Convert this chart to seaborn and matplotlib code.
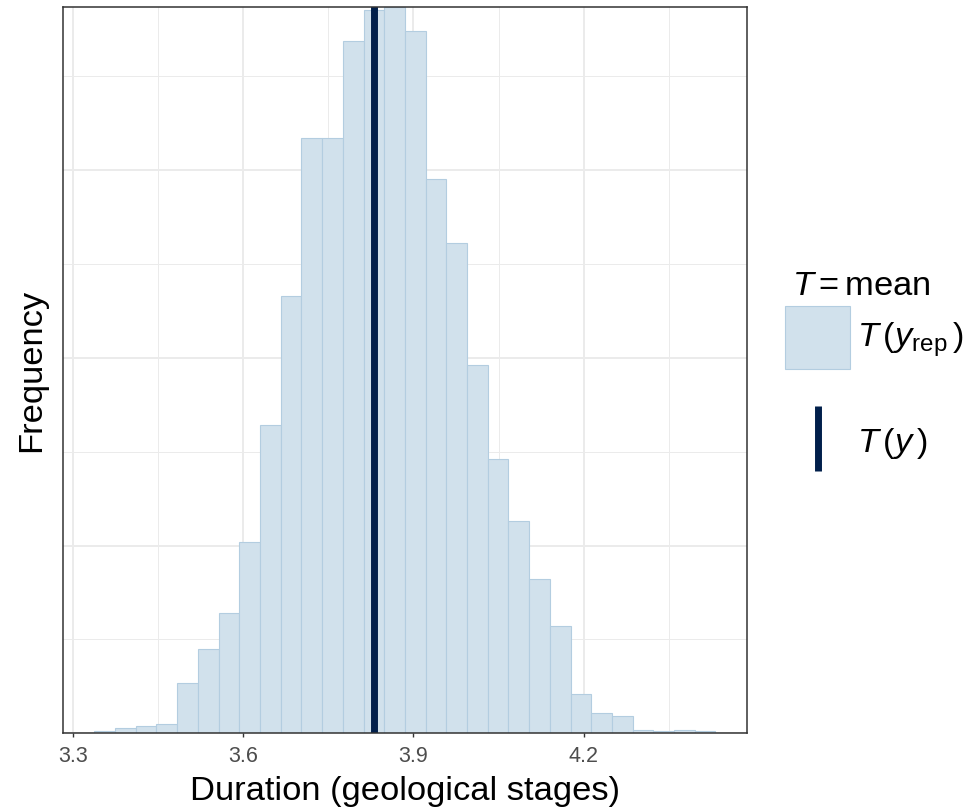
import numpy as np
import pandas as pd
import matplotlib
matplotlib.use("Agg")
import matplotlib.pyplot as plt
import seaborn as sns
from matplotlib.patches import Rectangle
from matplotlib.lines import Line2D
from matplotlib.ticker import FixedLocator, AutoMinorLocator, MultipleLocator

# ---- data ----
stat_lo = 3.3379          # left edge of first bin
stat_hi = 4.4319          # right edge of last bin
counts = [1, 3, 4, 5, 27, 45, 64, 102, 164, 233,
          317, 317, 369, 385, 387, 374, 295, 261, 196, 146,
          113, 82, 57, 21, 11, 9, 2, 1, 2, 1]
T_y = 3.830
x_ticks = [3.3, 3.6, 3.9, 4.2]
x_tick_labels = ["3.3", "3.6", "3.9", "4.2"]
x_label = "Duration (geological stages)"
y_label = "Frequency"
legend_title = r"$T = \mathrm{mean}$"
legend_rep = r"$T\,(y_{\mathrm{rep}}\,)$"
legend_obs = r"$T\,(y\,)$"

n_bins = len(counts)
edges = np.linspace(stat_lo, stat_hi, n_bins + 1)
centers = (edges[:-1] + edges[1:]) / 2
df = pd.DataFrame({"T_yrep": centers, "n": counts})

# ---- style ----
sns.set_theme(style="white")
plt.rcParams['font.family'] = ['Liberation Sans', 'DejaVu Sans']
plt.rcParams['text.color'] = 'black'
plt.rcParams['mathtext.fontset'] = 'custom'
plt.rcParams['mathtext.rm'] = 'Liberation Sans'
plt.rcParams['mathtext.it'] = 'Liberation Sans:italic'
plt.rcParams['mathtext.bf'] = 'Liberation Sans:bold'

FILL = "#d1e1ec"
EDGE = "#b3cde0"
DARK = "#011f4b"
GRID = "#ebebeb"
FS = 24.8

fig = plt.figure(figsize=(9.65, 8.09), dpi=100)
ax = fig.add_axes([0.0656, 0.0936, 0.7080, 0.8981])

sns.histplot(data=df, x="T_yrep", weights="n", bins=n_bins,
             binrange=(stat_lo, stat_hi), ax=ax,
             facecolor=FILL, edgecolor=EDGE, linewidth=0.8, alpha=1,
             zorder=2)
ax.axvline(T_y, color=DARK, lw=5.0, zorder=3)

span = stat_hi - stat_lo
ax.set_xlim(stat_lo - 0.05 * span, stat_hi + 0.05 * span)
ax.set_ylim(0, max(counts))

ax.xaxis.set_major_locator(FixedLocator(x_ticks))
ax.set_xticklabels(x_tick_labels)
ax.xaxis.set_minor_locator(AutoMinorLocator(2))
ax.yaxis.set_major_locator(MultipleLocator(100))
ax.yaxis.set_minor_locator(AutoMinorLocator(2))

ax.set_axisbelow(True)
ax.grid(which='major', color=GRID, lw=1.4, zorder=0)
ax.grid(which='minor', color=GRID, lw=0.7, zorder=0)

ax.tick_params(axis='x', which='major', length=3.2, width=1.0, color='#333333',
               labelsize=15.5, labelcolor='#4d4d4d', pad=6.3, bottom=True)
ax.tick_params(axis='x', which='minor', length=0)
ax.tick_params(axis='y', which='both', length=0, labelleft=False)

for s in ax.spines.values():
    s.set_color('#333333')
    s.set_linewidth(1.1)
    s.set_zorder(5)

ax.set_xlabel(x_label, fontsize=FS, color='black')
ax.xaxis.label.set_va('baseline')
ax.xaxis.set_label_coords(0.5, -(800 - 733.3) / 726.6)
ax.set_ylabel(y_label, fontsize=FS, color='black')
ax.yaxis.set_label_coords(-0.024, 0.5)

# ---- legend (drawn in figure coordinates) ----
W, H = 965.0, 809.0
fig.text(791.7 / W, 1 - 295 / H, legend_title, fontsize=FS,
         ha='left', va='baseline', color='black')
fig.add_artist(Rectangle((785 / W, 1 - 369.3 / H), 65 / W, 63.3 / H,
                         transform=fig.transFigure, facecolor=FILL,
                         edgecolor=EDGE, lw=0.8))
fig.text(857.3 / W, 1 - 346.7 / H, legend_rep, fontsize=FS,
         ha='left', va='baseline', color='black')
fig.add_artist(Line2D([817.5 / W, 817.5 / W], [1 - 405.7 / H, 1 - 471 / H],
                      transform=fig.transFigure, color=DARK, lw=5.0,
                      solid_capstyle='butt'))
fig.text(857.3 / W, 1 - 451.7 / H, legend_obs, fontsize=FS,
         ha='left', va='baseline', color='black')

fig.savefig("out.png", dpi=100)
